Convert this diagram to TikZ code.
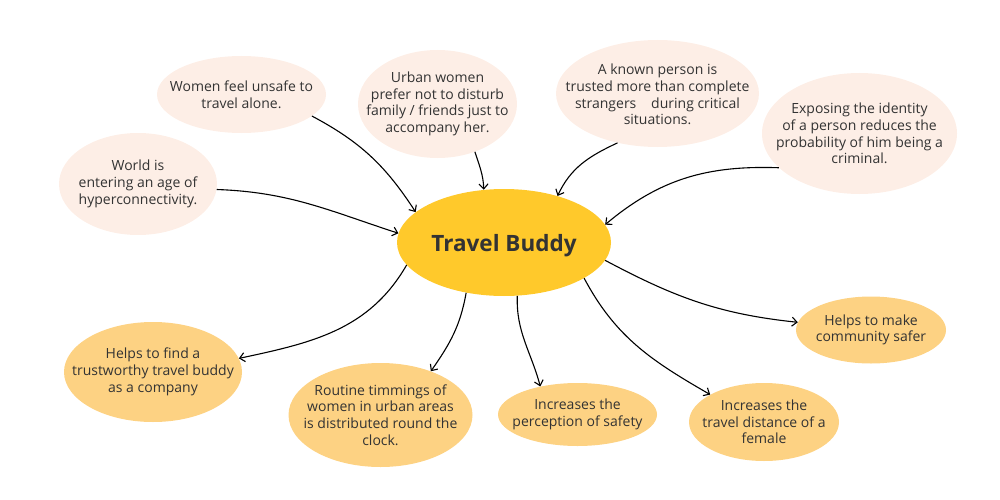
\documentclass[tikz,border=0pt]{standalone}
\usepackage{fontspec}
\setmainfont{Open Sans}
\usetikzlibrary{shapes.geometric,arrows.meta}
\definecolor{peach}{HTML}{FDEEE6}
\definecolor{orng}{HTML}{FDD283}
\definecolor{gold}{HTML}{FFC92B}
\definecolor{txt}{HTML}{333333}
\tikzset{
  bub/.style n args={2}{ellipse, inner sep=0pt, minimum width=#1pt, minimum height=#2pt},
  lbl/.style={align=center, text=txt, inner sep=0pt, font=\fontsize{14}{16.7}\selectfont},
  cause/.style={fill=peach},
  effect/.style={fill=orng},
  arr/.style={-{Straight Barb[length=5pt,width=9pt]}, line width=1.1pt, black},
}
\begin{document}
\begin{tikzpicture}[x=1pt,y=-1pt]
\useasboundingbox (0,0) rectangle (1000,500);
\node[bub={169}{77}, cause] (women) at (241.5,94.5) {};
\node[lbl] (womenT) at (women) {Women feel unsafe to\\travel alone.};
\node[bub={159}{108}, cause] (urban) at (437.5,104) {};
\node[lbl] (urbanT) at (urban) {Urban women\\prefer not to disturb\\family / friends just to\\accompany her.};
\node[bub={203}{107}, cause] (known) at (657.5,93.5) {};
\node[lbl] (knownT) at ([yshift=-1pt]known) {A known person is\\trusted more than complete\\strangers\hspace{0.8em} during critical\\situations.};
\node[bub={195}{121}, cause] (expose) at (859.5,133.5) {};
\node[lbl] (exposeT) at (expose) {Exposing the identity\\of a person reduces the\\probability of him being a\\criminal.};
\node[bub={158}{102}, cause] (world) at (138,184) {};
\node[lbl] (worldT) at (world) {World is\\entering an age of\\hyperconnectivity.};
\node[ellipse, inner sep=0pt, minimum width=214pt, minimum height=107pt, fill=gold] (tb) at (504,242.5) {};
\node[text=txt, font=\fontsize{22.5}{26}\selectfont\bfseries] (tbT) at ([yshift=-3pt]tb) {Travel Buddy};
\node[bub={150}{67}, effect] (community) at (871,330) {};
\node[lbl] (communityT) at (community) {Helps to make\\community safer};
\node[bub={178}{100}, effect] (find) at (153,372) {};
\node[lbl] (findT) at (find) {Helps to find a\\trustworthy travel buddy\\as a company};
\node[bub={184}{104}, effect] (routine) at (380.5,415) {};
\node[lbl] (routineT) at (routine) {Routine timmings of\\women in urban areas\\is distributed round the\\clock.};
\node[bub={159}{63}, effect] (safety) at (577.5,414.5) {};
\node[lbl] (safetyT) at (safety) {Increases the\\perception of safety};
\node[bub={150}{78}, effect] (distance) at (764,422) {};
\node[lbl] (distanceT) at (distance) {Increases the\\travel distance of a\\female};

\draw[arr] (women.-17) to[out=-28,in=123] (tb.161);
\draw[arr] (urban.-52) to[out=-72,in=92] (tb.111);
\draw[arr] (known.231) to[out=205,in=65] (tb.41);
\draw[arr] (expose.203) to[out=178,in=40] (tb.10);
\draw[arr] (world.-4) to[out=-2,in=162] (tb.175);
\draw[arr] (tb.233) to[out=-100,in=55] (routine.41);
\draw[arr] (tb.193) to[out=240,in=12] (find.9);
\draw[arr] (tb.-76) to[out=-92,in=105] (safety.143);
\draw[arr] (tb.-24) to[out=-62,in=150] (distance.153);
\draw[arr] (tb.-10) to[out=-28,in=174] (community.174);
\end{tikzpicture}
\end{document}
